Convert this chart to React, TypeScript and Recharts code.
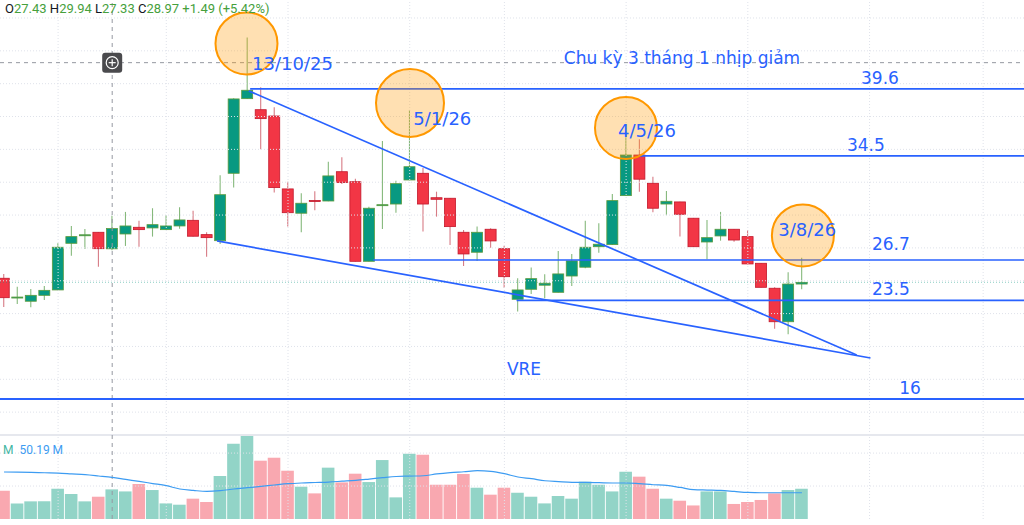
import {
  ComposedChart, Bar, Line, Cell, XAxis, YAxis, ReferenceLine, ReferenceDot,
} from 'recharts';

const BLUE = '#2962ff';
const UP = '#089981';
const UP_EDGE = '#5b9b3c';
const UP_WICK = '#86b97c';
const DN = '#f23645';
const DN_EDGE = '#c2182b';
const DN_WICK = '#d77b85';
const VOL_UP = '#92d4c7';
const VOL_DN = '#f9a8b0';
const GRID = '#dfe2ea';
const CROSS = '#9598a1';
const FONT = 'DejaVu Sans, Verdana, sans-serif';
const UI_FONT = 'Roboto, sans-serif';

// phiên giao dịch (tuần)
const OPEN = [
  25.19, 23.72, 23.44, 23.89, 24.30, 27.85, 28.46, 28.69, 27.43, 28.56,
  29.07, 29.02, 28.89, 29.17, 29.60, 28.51, 28.05, 33.18, 38.86, 38.02,
  37.54, 31.99, 30.14, 31.11, 31.07, 33.30, 32.54, 26.48, 30.75, 30.84,
  32.67, 33.18, 31.32, 31.28, 28.69, 27.17, 28.92, 27.44, 23.59, 24.35,
  24.66, 24.12, 25.36, 26.03, 27.59, 27.75, 31.48, 34.57, 32.42, 30.84,
  31.00, 29.76, 27.95, 28.41, 28.92, 28.36, 26.33, 24.43, 21.88, 24.75,
];
const HIGH = [
  25.52, 24.55, 24.37, 24.60, 27.85, 29.17, 28.94, 28.72, 29.94, 30.24,
  29.57, 30.52, 30.01, 30.59, 30.33, 28.69, 33.03, 38.89, 43.52, 39.73,
  38.21, 32.54, 31.66, 31.81, 34.06, 34.40, 32.77, 30.64, 35.64, 32.62,
  38.00, 33.59, 31.78, 31.30, 28.87, 29.12, 29.00, 27.67, 25.19, 26.00,
  25.49, 27.27, 27.04, 29.57, 29.38, 31.61, 36.10, 35.77, 32.92, 31.83,
  31.02, 29.78, 29.63, 30.24, 28.94, 28.87, 26.35, 24.50, 25.65, 26.76,
];
const LOW = [
  23.00, 23.23, 22.98, 23.54, 24.25, 26.91, 27.42, 26.07, 27.33, 27.65,
  27.59, 28.36, 28.88, 28.96, 28.37, 26.83, 27.80, 32.09, 38.84, 35.01,
  31.71, 29.12, 28.69, 30.37, 31.05, 32.37, 26.46, 26.46, 28.94, 30.18,
  32.65, 28.74, 29.88, 27.72, 26.12, 26.51, 27.52, 24.47, 22.65, 23.99,
  23.67, 24.10, 24.60, 25.95, 27.14, 27.73, 31.46, 31.78, 30.21, 29.98,
  28.36, 27.57, 26.63, 28.05, 27.97, 26.26, 24.48, 21.35, 20.93, 24.35,
];
const CLOSE = [
  23.71, 23.76, 23.89, 24.27, 27.55, 28.36, 28.50, 27.44, 28.97, 29.17,
  28.89, 29.27, 29.17, 29.63, 28.39, 28.28, 31.55, 38.84, 39.50, 37.34,
  32.09, 30.18, 30.90, 31.07, 32.98, 32.47, 26.48, 30.52, 30.79, 32.39,
  33.68, 30.84, 31.20, 29.12, 27.04, 28.69, 28.03, 25.31, 24.30, 25.16,
  24.81, 25.52, 26.51, 27.55, 27.78, 31.10, 34.57, 32.73, 30.52, 31.05,
  30.06, 27.59, 28.28, 28.92, 28.10, 26.28, 24.50, 21.88, 24.75, 24.88,
];
// khối lượng (triệu cp) và đường trung bình
const VOLUME = [
  30.5, 16.8, 19.0, 19.0, 32.6, 26.9, 19.0, 24.0, 31.9, 29.7,
  37.7, 31.2, 16.8, 15.4, 21.9, 18.3, 46.3, 81.1, 89.7, 62.8,
  66.0, 52.0, 34.8, 27.6, 55.3, 39.4, 48.8, 39.8, 63.5, 23.3,
  70.3, 69.3, 36.9, 36.9, 48.5, 33.7, 26.2, 33.7, 28.3, 24.0,
  16.8, 24.8, 21.9, 40.2, 36.9, 29.7, 50.9, 45.6, 32.6, 21.9,
  19.7, 14.6, 29.7, 29.7, 16.2, 18.3, 20.5, 27.6, 31.2, 32.6,
];
const VOL_MA = [
  50.6, 50.4, 50.2, 49.8, 49.5, 48.6, 47.7, 46.3, 44.8, 42.6,
  40.5, 38.2, 35.9, 32.3, 30.8, 29.7, 30.5, 32.3, 33.7, 35.1,
  36.6, 38.0, 38.8, 39.3, 39.8, 40.7, 41.6, 43.0, 44.5, 45.8,
  46.2, 46.6, 48.5, 49.9, 50.9, 52.0, 51.3, 48.8, 45.2, 43.4,
  41.2, 40.2, 39.4, 39.4, 39.1, 38.8, 38.8, 38.0, 36.9, 36.2,
  34.0, 31.6, 31.2, 30.8, 29.7, 28.6, 28.3, 28.3, 28.3, 28.3,
];

const PRICE_GRID = [15, 17.5, 20, 22.5, 25, 27.5, 30, 32.5, 35, 37.5, 40, 42.5, 45];
const TIME_GRID = [4, 12, 21, 30, 37, 46, 55, 64, 72.4];
const VOL_GRID = [35.5, 71];

// mốc hỗ trợ / kháng cự: [chỉ số bắt đầu, giá]
const LEVELS: [number, number][] = [
  [18.2, 39.6], [46.9, 34.5], [27.3, 26.58], [37.9, 23.5],
];
// kênh giảm (nêm)
const TRENDS: [number, number, number, number][] = [
  [18.1, 39.45, 63.05, 19.35],
  [15.75, 28.03, 64.07, 19.12],
];
const CIRCLES: [number, number, number][] = [
  [17.93, 43.06, 31], [30.02, 38.53, 34], [45.99, 36.63, 31], [59.07, 28.45, 31],
];
const NOTES: { text: string; x: number; y: number; size: number }[] = [
  { text: '13/10/25', x: 21.33, y: 41.54, size: 18 },
  { text: '5/1/26', x: 32.41, y: 37.37, size: 18 },
  { text: '4/5/26', x: 47.54, y: 36.42, size: 18 },
  { text: '3/8/26', x: 59.39, y: 28.87, size: 18 },
  { text: 'Chu kỳ 3 tháng 1 nhịp giảm', x: 50.13, y: 41.94, size: 17 },
  { text: '39.6', x: 64.77, y: 40.44, size: 17 },
  { text: '34.5', x: 63.73, y: 35.34, size: 17 },
  { text: '26.7', x: 65.58, y: 27.8, size: 17 },
  { text: '23.5', x: 65.58, y: 24.37, size: 17 },
  { text: '16', x: 66.99, y: 16.84, size: 17 },
  { text: 'VRE', x: 38.45, y: 18.28, size: 17 },
];
const LAST_PRICE = 24.88;
const CROSS_AT: [number, number] = [8, 41.6];

const rows = OPEN.map((o, i) => ({
  i, o, h: HIGH[i], l: LOW[i], c: CLOSE[i], v: VOLUME[i], ma: VOL_MA[i],
}));

const X_DOMAIN: [number, number] = [-0.296, 75.42];

const Candle = (props: any) => {
  const { x, y, width, height, payload } = props;
  if (x == null || y == null || !payload) return null;
  const top = Math.min(y, y + height);
  const span = Math.abs(height);
  const k = payload.h === payload.l ? 0 : span / (payload.h - payload.l);
  const yo = top + (payload.h - payload.o) * k;
  const yc = top + (payload.h - payload.c) * k;
  const up = payload.c >= payload.o;
  const cx = x + width / 2;
  return (
    <g>
      <line x1={cx} x2={cx} y1={top} y2={top + span} stroke={up ? UP_WICK : DN_WICK} strokeWidth={1.1} />
      <rect
        x={x} y={Math.min(yo, yc)} width={width} height={Math.max(1, Math.abs(yo - yc))}
        fill={up ? UP : DN} stroke={up ? UP_EDGE : DN_EDGE} strokeWidth={0.8}
      />
    </g>
  );
};

const PlusButton = (props: any) => {
  const { cx, cy } = props;
  if (cx == null) return null;
  return (
    <g>
      <rect x={cx - 10} y={cy - 10} width={20} height={20} rx={3} fill="#4a4a4d" />
      <circle cx={cx} cy={cy} r={6} fill="none" stroke="#fff" strokeWidth={1.2} />
      <line x1={cx - 3.5} x2={cx + 3.5} y1={cy} y2={cy} stroke="#fff" strokeWidth={1.2} />
      <line x1={cx} x2={cx} y1={cy - 3.5} y2={cy + 3.5} stroke="#fff" strokeWidth={1.2} />
    </g>
  );
};

export default function App() {
  return (
    <div style={{ position: 'absolute', left: 0, top: 0, width: 1024, height: 525, background: '#fff', overflow: 'hidden' }}>
      <ComposedChart width={1024} height={525} data={rows} margin={{ top: 0, right: 0, bottom: 6, left: 0 }}>
        <XAxis xAxisId="a" type="number" dataKey="i" domain={X_DOMAIN} hide allowDataOverflow />
        <XAxis xAxisId="b" type="number" dataKey="i" domain={X_DOMAIN} hide allowDataOverflow />
        <YAxis yAxisId="p" domain={[6.865, 46.37]} hide allowDataOverflow />
        <YAxis yAxisId="v" domain={[0, 559]} hide allowDataOverflow />

        {PRICE_GRID.map(p => (
          <ReferenceLine key={'g' + p} xAxisId="a" yAxisId="p" y={p} stroke={GRID} strokeDasharray="1 2" />
        ))}
        {TIME_GRID.map(t => (
          <ReferenceLine key={'t' + t} xAxisId="a" yAxisId="p" x={t} stroke={GRID} strokeDasharray="1 2" />
        ))}
        {VOL_GRID.map(v => (
          <ReferenceLine key={'vg' + v} xAxisId="b" yAxisId="v" y={v} stroke={GRID} strokeDasharray="1 2" />
        ))}
        <ReferenceLine xAxisId="b" yAxisId="v" y={90.6} stroke="#e6e8ee" strokeWidth={2} />
        <ReferenceLine xAxisId="a" yAxisId="p" y={LAST_PRICE} stroke={UP} strokeOpacity={0.45} strokeDasharray="1 2" />
        <ReferenceLine xAxisId="a" yAxisId="p" x={CROSS_AT[0]} stroke={CROSS} strokeDasharray="4 4" />
        <ReferenceLine xAxisId="a" yAxisId="p" y={CROSS_AT[1]} stroke={CROSS} strokeDasharray="4 4" />

        <Bar xAxisId="b" yAxisId="v" dataKey="v" barSize={12.6} isAnimationActive={false}>
          {rows.map(r => (
            <Cell key={r.i} fill={r.c >= r.o ? VOL_UP : VOL_DN} />
          ))}
        </Bar>
        <Line
          xAxisId="b" yAxisId="v" dataKey="ma" type="monotone" stroke="#3d9cf2" strokeWidth={1.2}
          dot={false} activeDot={false} isAnimationActive={false}
        />

        <Bar
          xAxisId="a" yAxisId="p" dataKey={(d: any) => [d.l, d.h]} barSize={11}
          shape={<Candle />} isAnimationActive={false}
        />

        {LEVELS.map(([x0, p]) => (
          <ReferenceLine
            key={'l' + p} xAxisId="a" yAxisId="p" ifOverflow="visible"
            segment={[{ x: x0, y: p }, { x: X_DOMAIN[1], y: p }]}
            stroke={BLUE} strokeWidth={1.7}
          />
        ))}
        <ReferenceLine xAxisId="a" yAxisId="p" y={16} stroke={BLUE} strokeWidth={1.8} />
        {TRENDS.map(([x0, y0, x1, y1], k) => (
          <ReferenceLine
            key={'tr' + k} xAxisId="a" yAxisId="p" ifOverflow="visible"
            segment={[{ x: x0, y: y0 }, { x: x1, y: y1 }]}
            stroke={BLUE} strokeWidth={1.7}
          />
        ))}

        {CIRCLES.map(([x, y, r], k) => (
          <ReferenceDot
            key={'c' + k} xAxisId="a" yAxisId="p" x={x} y={y} r={r}
            fill="rgba(255,152,0,0.3)" stroke="#ff9800" strokeWidth={2} ifOverflow="visible"
          />
        ))}

        {NOTES.map(n => (
          <ReferenceDot
            key={n.text} xAxisId="a" yAxisId="p" x={n.x} y={n.y} r={0}
            fill="none" stroke="none" ifOverflow="visible"
            label={{ value: n.text, position: 'center', fill: BLUE, fontSize: n.size, fontFamily: FONT }}
          />
        ))}

        <ReferenceDot xAxisId="a" yAxisId="p" x={CROSS_AT[0]} y={CROSS_AT[1]} r={10} shape={<PlusButton />} />
      </ComposedChart>

      <div style={{ position: 'absolute', left: 5, top: 1, fontFamily: UI_FONT, fontSize: 13, lineHeight: '15px', whiteSpace: 'nowrap', color: '#131722' }}>
        O<span style={{ color: '#46a03c' }}>27.43</span>{' '}
        H<span style={{ color: '#46a03c' }}>29.94</span>{' '}
        L<span style={{ color: '#46a03c' }}>27.33</span>{' '}
        C<span style={{ color: '#46a03c' }}>28.97</span>{' '}
        <span style={{ color: '#46a03c' }}>+1.49 (+5.42%)</span>
      </div>
      <div style={{ position: 'absolute', left: 3, top: 443, fontFamily: UI_FONT, fontSize: 12, lineHeight: '14px', whiteSpace: 'nowrap' }}>
        <span style={{ color: '#3fb6a3' }}>M</span>
        <span style={{ color: '#3d9cf2', marginLeft: 6 }}>50.19 M</span>
      </div>
    </div>
  );
}
